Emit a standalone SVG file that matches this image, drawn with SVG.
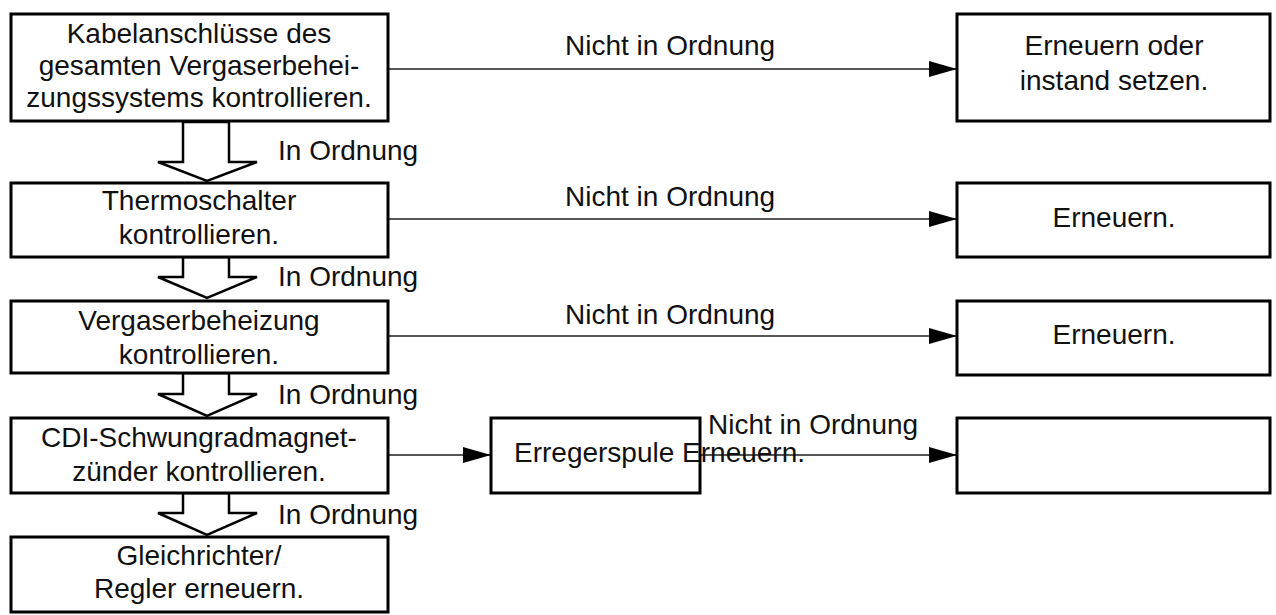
<svg xmlns="http://www.w3.org/2000/svg" width="1276" height="615" viewBox="0 0 1276 615">
<defs>
<style>
.box{fill:#fff;stroke:#000;stroke-width:3}
.t{font-family:"Liberation Sans",Arial,sans-serif;font-size:28px;fill:#111}
.c{text-anchor:middle}
.ln{stroke:#555;stroke-width:2;fill:none;marker-end:url(#ah)}
.ha{fill:#fff;stroke:#000;stroke-width:2.5;stroke-linejoin:miter}
</style>
<marker id="ah" markerUnits="userSpaceOnUse" markerWidth="30" markerHeight="18" refX="28" refY="8" orient="auto">
<path d="M0,0 L28,8 L0,16 Z" fill="#000"/>
</marker>
</defs>
<rect width="1276" height="615" fill="#fff"/>

<g id="connectors">
<line class="ln" x1="389" y1="69" x2="957" y2="69"/>
<line class="ln" x1="389" y1="219" x2="957" y2="219"/>
<line class="ln" x1="389" y1="336" x2="957" y2="336"/>
<line class="ln" x1="389" y1="455" x2="491" y2="455"/>
<line class="ln" x1="700" y1="455" x2="957" y2="455"/>
<polygon class="ha" points="183,122 229,122 229,162 257,162 207,181 158,162 183,162"/>
<polygon class="ha" points="183,257 229,257 229,277 257,277 207,298 158,277 183,277"/>
<polygon class="ha" points="183,373 229,373 229,394 257,394 207,416 158,394 183,394"/>
<polygon class="ha" points="183,493 229,493 229,513 257,513 207,535 158,513 183,513"/>
<text class="t" x="278" y="160">In Ordnung</text>
<text class="t" x="278" y="286">In Ordnung</text>
<text class="t" x="278" y="404">In Ordnung</text>
<text class="t" x="278" y="524">In Ordnung</text>
<text class="t" x="565" y="55">Nicht in Ordnung</text>
<text class="t" x="565" y="206">Nicht in Ordnung</text>
<text class="t" x="565" y="324">Nicht in Ordnung</text>
<text class="t" x="708" y="434">Nicht in Ordnung</text>
</g>

<g id="n1">
<rect class="box" x="11" y="14" width="377" height="107"/>
<text class="t c" x="199" y="43">Kabelanschlüsse des</text>
<text class="t c" x="199" y="75">gesamten Vergaserbehei-</text>
<text class="t c" x="199" y="107">zungssystems kontrollieren.</text>
</g>
<g id="n2">
<rect class="box" x="11" y="183" width="377" height="74"/>
<text class="t c" x="199" y="210">Thermoschalter</text>
<text class="t c" x="199" y="244">kontrollieren.</text>
</g>
<g id="n3">
<rect class="box" x="11" y="301" width="377" height="72"/>
<text class="t c" x="199" y="330">Vergaserbeheizung</text>
<text class="t c" x="199" y="364">kontrollieren.</text>
</g>
<g id="n4">
<rect class="box" x="11" y="418" width="377" height="75"/>
<text class="t c" x="199" y="447">CDI-Schwungradmagnet-</text>
<text class="t c" x="199" y="481">zünder kontrollieren.</text>
</g>
<g id="n5">
<rect class="box" x="11" y="537" width="377" height="75"/>
<text class="t c" x="199" y="565">Gleichrichter/</text>
<text class="t c" x="199" y="598">Regler erneuern.</text>
</g>
<g id="n6">
<rect class="box" x="957" y="14" width="313" height="107"/>
<text class="t c" x="1114" y="55">Erneuern oder</text>
<text class="t c" x="1114" y="90">instand setzen.</text>
</g>
<g id="n7">
<rect class="box" x="957" y="183" width="313" height="74"/>
<text class="t c" x="1114" y="227">Erneuern.</text>
</g>
<g id="n8">
<rect class="box" x="957" y="301" width="313" height="74"/>
<text class="t c" x="1114" y="344">Erneuern.</text>
</g>
<g id="n9">
<rect class="box" x="491" y="418" width="209" height="75"/>
<text class="t" x="514" y="462">Erregerspule Erneuern.</text>
</g>
<g id="n10">
<rect class="box" x="957" y="418" width="313" height="75"/>
</g>
</svg>
